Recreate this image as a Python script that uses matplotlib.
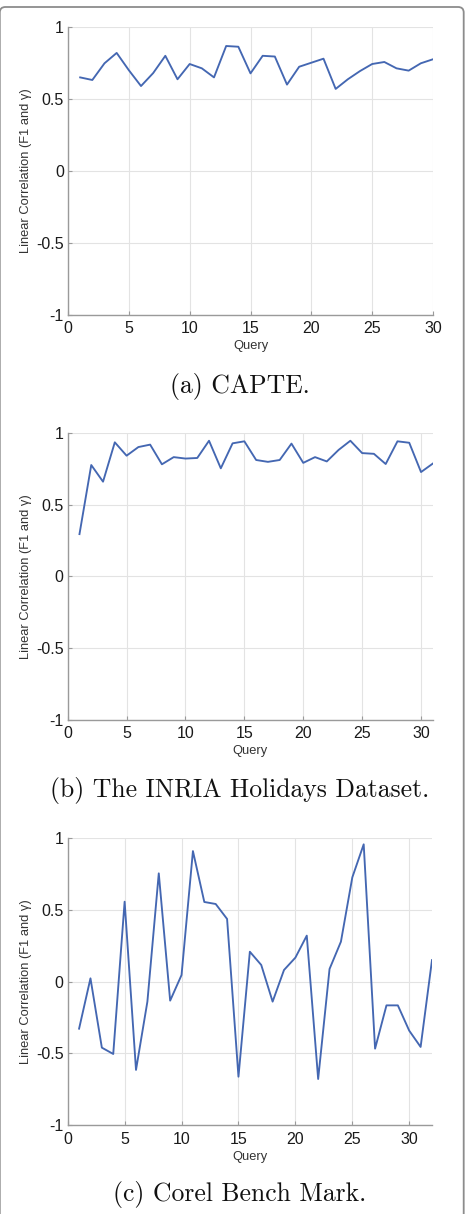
import matplotlib
matplotlib.use("Agg")
import matplotlib.pyplot as plt
from matplotlib.patches import FancyBboxPatch

# ---- data ----
capte_vals = [0.65, 0.632, 0.748, 0.82, 0.70, 0.59, 0.68, 0.80, 0.637, 0.743,
              0.713, 0.65, 0.868, 0.863, 0.678, 0.80, 0.795, 0.60, 0.724, 0.752,
              0.78, 0.57, 0.637, 0.694, 0.743, 0.757, 0.713, 0.697, 0.748, 0.776]
inria_vals = [0.294, 0.775, 0.659, 0.933, 0.84, 0.90, 0.917, 0.78, 0.83, 0.82,
              0.824, 0.944, 0.752, 0.926, 0.94, 0.81, 0.797, 0.81, 0.924, 0.79,
              0.83, 0.80, 0.88, 0.944, 0.858, 0.853, 0.782, 0.94, 0.93, 0.726,
              0.785]
corel_vals = [-0.328, 0.022, -0.46, -0.504, 0.555, -0.615, -0.14, 0.752, -0.133, 0.045,
              0.907, 0.553, 0.539, 0.435, -0.662, 0.207, 0.115, -0.14, 0.08, 0.166,
              0.319, -0.678, 0.087, 0.277, 0.724, 0.954, -0.467, -0.166, -0.166, -0.342,
              -0.455, 0.149]
captions = ["(a) CAPTE.", "(b) The INRIA Holidays Dataset.", "(c) Corel Bench Mark."]
x_limits = [30, 31, 32]
y_ticks = [-1, -0.5, 0, 0.5, 1]
y_tick_labels = ["-1", "-0.5", "0", "0.5", "1"]
x_ticks = [0, 5, 10, 15, 20, 25, 30]
x_tick_labels = ["0", "5", "10", "15", "20", "25", "30"]
ylabel = "Linear Correlation (F1 and \u03b3)"
xlabel = "Query"

W, H = 466, 1214
fig = plt.figure(figsize=(W / 100, H / 100), dpi=100)
fig.patch.set_facecolor("white")

# card frame (top and right edges visible, left edge at the canvas border)
frame = FancyBboxPatch((-0.2 / W, -0.05), (463.7 + 0.2) / W, 1 - 7 / H + 0.05,
                       boxstyle="round,pad=0,rounding_size=0.012",
                       transform=fig.transFigure, facecolor="none",
                       edgecolor="#8c8c8c", linewidth=1.3, zorder=0,
                       mutation_aspect=W / H)
fig.patches.append(frame)

# axes boxes in pixels: left, right, top, bottom
boxes = [(68, 433, 27, 315), (67.7, 432.8, 432.7, 720), (67.7, 432, 837.7, 1125.3)]
caption_y = [387, 791, 1194]
series = [capte_vals, inria_vals, corel_vals]

tick_font = ["Liberation Sans", "DejaVu Sans"]
line_color = "#4467b2"

for (l, r, t, b), vals, xmax, cap, cy in zip(boxes, series, x_limits, captions, caption_y):
    ax = fig.add_axes([l / W, 1 - b / H, (r - l) / W, (b - t) / H])
    xs = list(range(1, len(vals) + 1))
    ax.plot(xs, vals, color=line_color, linewidth=1.35, zorder=3)
    ax.set_xlim(0, xmax)
    ax.set_ylim(-1, 1)
    ax.set_xticks(x_ticks)
    ax.set_xticklabels(x_tick_labels)
    ax.set_yticks(y_ticks)
    ax.set_yticklabels(y_tick_labels)
    ax.grid(True, color="#e3e3e3", linewidth=0.8)
    ax.set_axisbelow(True)
    for s in ("top", "right"):
        ax.spines[s].set_visible(False)
    for s in ("left", "bottom"):
        ax.spines[s].set_color("#9a9a9a")
        ax.spines[s].set_linewidth(1.0)
    ax.tick_params(direction="in", length=3, width=0.8, color="#9a9a9a",
                   labelsize=11.5, labelcolor="#1a1a1a")
    ax.tick_params(axis="x", pad=4.5)
    ax.tick_params(axis="y", pad=3)
    for lab in ax.get_xticklabels() + ax.get_yticklabels():
        lab.set_family(tick_font)
    ax.set_ylabel(ylabel, fontsize=9.3, family=tick_font, color="#333333", labelpad=3)
    ax.set_xlabel(xlabel, fontsize=9.3, family=tick_font, color="#333333", labelpad=3)
    fig.text(240 / W, 1 - cy / H, cap, ha="center", va="center",
             fontsize=18.5, family=["cmr10", "DejaVu Serif"], color="#111111")

fig.savefig("out.png", dpi=100)
